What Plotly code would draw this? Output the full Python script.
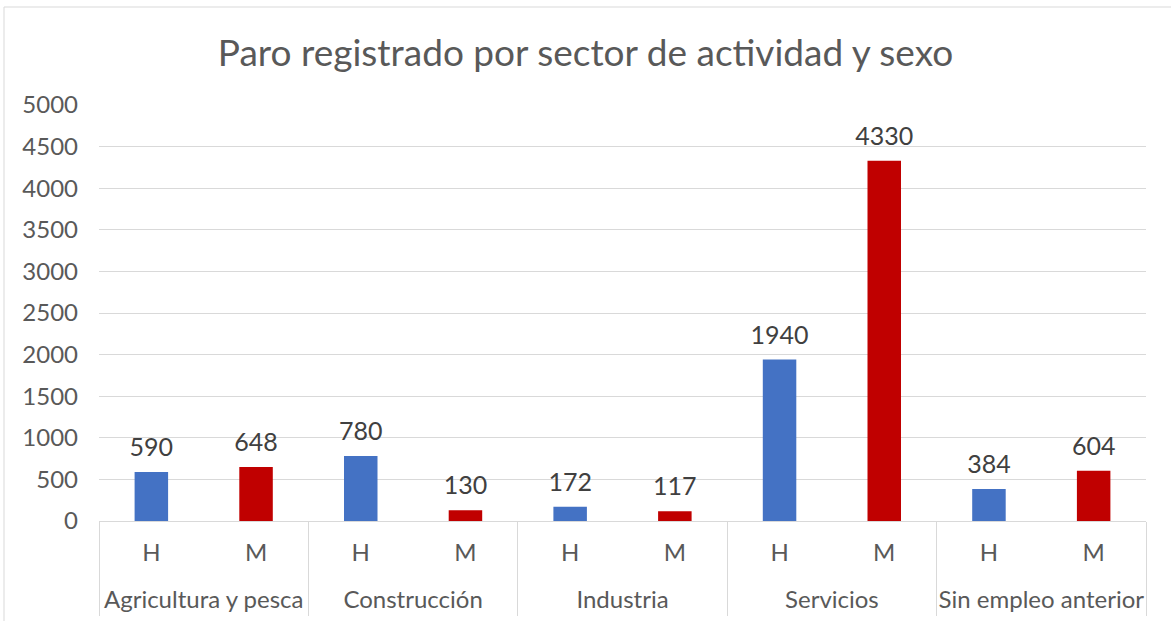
import plotly.graph_objects as go

sectores = ["Agricultura y pesca", "Construcción", "Industria", "Servicios", "Sin empleo anterior"]
sexos = ["H", "M"]
valores_h = [590, 780, 172, 1940, 384]
valores_m = [648, 130, 117, 4330, 604]
color_h = "#4472C4"
color_m = "#C00000"

subs, vals, cols = [], [], []
for h, m in zip(valores_h, valores_m):
    subs += sexos
    vals += [h, m]
    cols += [color_h, color_m]
pos = list(range(len(vals)))
n_sex = len(sexos)
centros = [i * n_sex + (n_sex - 1) / 2 for i in range(len(sectores))]
limites = [i * n_sex - 0.5 for i in range(len(sectores) + 1)]
rango = [-0.5, len(vals) - 0.5]

FONT = "Lato, 'Open Sans', sans-serif"
GRAY = "#595959"
LINE = "#D9D9D9"

fig = go.Figure()
fig.add_trace(go.Bar(
    x=pos, y=vals,
    marker=dict(color=cols, line=dict(width=0)),
    width=0.32,
    customdata=subs, hovertemplate="%{customdata}: %{y}<extra></extra>",
))
fig.add_trace(go.Scatter(
    x=pos, y=vals,
    mode="text+markers",
    marker=dict(size=14, opacity=0),
    text=[str(v) for v in vals], textposition="top center",
    textfont=dict(family=FONT, size=25, color="#404040"),
    cliponaxis=False, hoverinfo="skip",
))
# invisible helpers so the overlay axes are drawn
fig.add_trace(go.Scatter(x=centros, y=[0] * len(centros), xaxis="x2", mode="none",
                         hoverinfo="skip"))
fig.add_trace(go.Scatter(x=limites, y=[0] * len(limites), xaxis="x3", mode="none",
                         hoverinfo="skip"))

fig.update_layout(
    width=1171, height=621,
    margin=dict(l=99, r=25, t=105, b=100),
    paper_bgcolor="white", plot_bgcolor="white",
    title=dict(text="Paro registrado por sector de actividad y sexo",
               x=0.5, xanchor="center", y=0.915, yanchor="middle",
               font=dict(family=FONT, size=37, color=GRAY)),
    font=dict(family=FONT, size=24, color=GRAY),
    showlegend=False,
    yaxis=dict(range=[0, 5000], dtick=500, showgrid=True, gridcolor=LINE,
               gridwidth=1, zeroline=False, showline=False, automargin=False,
               tickfont=dict(family=FONT, size=24, color=GRAY),
               ticklabelstandoff=20),
    xaxis=dict(range=rango, tickmode="array", tickvals=pos, ticktext=subs,
               showline=True, linecolor=LINE, linewidth=1, showgrid=False,
               zeroline=False, ticks="", automargin=False, fixedrange=True,
               tickfont=dict(family=FONT, size=24, color=GRAY),
               ticklabelstandoff=10),
    xaxis2=dict(range=rango, overlaying="x", anchor="y", side="bottom",
                tickmode="array", tickvals=centros, ticktext=sectores,
                showline=False, showgrid=False, zeroline=False, ticks="",
                automargin=False, fixedrange=True,
                tickfont=dict(family=FONT, size=24, color=GRAY),
                ticklabelstandoff=62),
    xaxis3=dict(range=rango, overlaying="x", anchor="y", side="bottom",
                tickmode="array", tickvals=limites, showticklabels=False,
                showline=False, showgrid=False, zeroline=False,
                ticks="outside", ticklen=94, tickcolor=LINE, tickwidth=1,
                automargin=False, fixedrange=True),
)

fig.add_shape(type="rect", xref="paper", yref="paper",
              x0=(4 - 99) / 1047, x1=(1180 - 99) / 1047,
              y0=(521 - 630) / 416, y1=(521 - 7) / 416,
              line=dict(color=LINE, width=1), layer="below")

fig.write_html("out.html", config={"displayModeBar": False},
               post_script="document.body.style.margin='0';")
